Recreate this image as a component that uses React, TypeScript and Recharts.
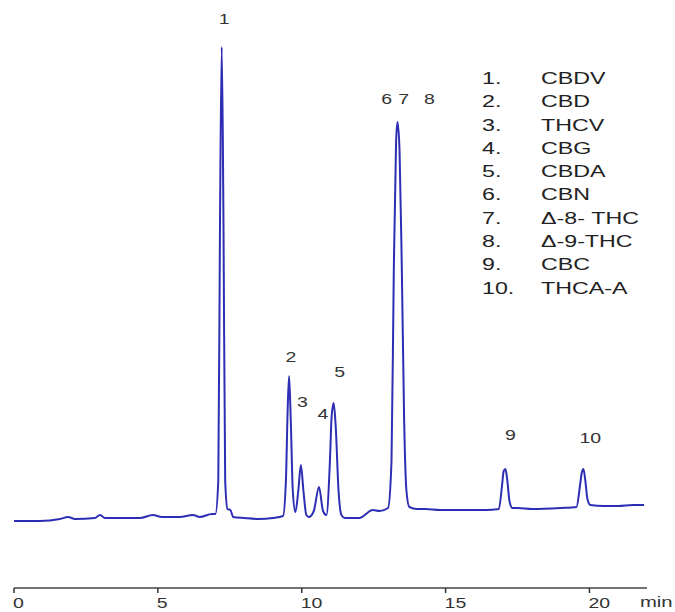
import React from "react";
import { LineChart, Line, XAxis, YAxis, ReferenceDot } from "recharts";

// retention time (min)
const times = [
  0, 0.9, 1.6, 1.88, 2.12, 2.81, 2.99, 3.16, 4.38, 4.83, 5.14, 5.76, 6.22, 6.46, 6.88, 7.0,
  7.1, 7.16, 7.22, 7.28, 7.34, 7.42, 7.52, 7.62, 8.0, 8.5, 9.0, 9.35,
  9.45, 9.51, 9.56, 9.62, 9.69, 9.78, 9.88, 9.97, 10.06, 10.16, 10.25, 10.42, 10.6, 10.74, 10.86,
  10.98, 11.04, 11.11, 11.18, 11.28, 11.38, 11.5, 12.0, 12.47, 12.7, 13.0,
  13.12, 13.2, 13.28, 13.33, 13.4, 13.48, 13.56, 13.64, 13.74, 14.0, 14.3, 14.8, 15.5, 16.4,
  16.85, 16.96, 17.02, 17.08, 17.14, 17.22, 17.32, 17.5, 18.0, 19.0,
  19.55, 19.67, 19.73, 19.79, 19.85, 19.93, 20.03, 20.5, 21.0, 21.5, 21.9,
];

// detector response (arbitrary units)
const signal = [
  0, 0, 2, 4, 2, 3, 6, 3, 3, 6, 4, 4, 6, 4, 7, 7,
  40, 300, 474, 300, 40, 12, 11, 4, 3, 2, 3, 5,
  40, 110, 145, 100, 30, 9, 30, 56, 30, 6, 4, 10, 34, 10, 6,
  60, 105, 118, 95, 30, 6, 3, 3, 11, 10, 13,
  60, 250, 380, 399, 370, 250, 100, 30, 14, 12, 12, 11, 11, 11,
  12, 35, 50, 52, 42, 20, 13, 13, 12, 13,
  14, 35, 48, 52, 42, 22, 16, 15, 15, 16, 16,
];

const tickValues = [0, 5, 10, 15, 20];

// peak annotations
const peakLabels = ["1", "2", "3", "4", "5", "6", "7", "8", "9", "10"];
const peakLabelTimes = [7.3, 9.62, 10.02, 10.74, 11.32, 12.95, 13.54, 14.44, 17.25, 20.03];
const peakLabelHeights = [502, 164, 119, 107, 149, 422, 422, 422, 86, 83];

// compound list
const compoundNumbers = ["1.", "2.", "3.", "4.", "5.", "6.", "7.", "8.", "9.", "10."];
const compoundNames = ["CBDV", "CBD", "THCV", "CBG", "CBDA", "CBN", "\u0394-8- THC", "\u0394-9-THC", "CBC", "THCA-A"];

const data = times.map((t, i) => ({ t, v: signal[i] }));

const FONT = '"Liberation Sans", Arial, Helvetica, sans-serif';

const Tick = (props: any) => {
  const { x, payload } = props;
  return (
    <text
      transform={`translate(${x - 1},608) scale(1.3,1)`}
      x={0}
      y={0}
      textAnchor="start"
      fontFamily={FONT}
      fontSize={15}
      fill="#333"
    >
      {payload.value}
    </text>
  );
};

const PeakText = ({ viewBox, text }: any) => {
  const x = viewBox.x + (viewBox.width || 0) / 2;
  const y = viewBox.y + (viewBox.height || 0) / 2;
  return (
    <text
      transform={`translate(${x},${y}) scale(1.3,1)`}
      x={0}
      y={0}
      textAnchor="middle"
      dominantBaseline="central"
      fontFamily={FONT}
      fontSize={15}
      fill="#333"
    >
      {text}
    </text>
  );
};

const legendSpan: React.CSSProperties = {
  display: "inline-block",
  transform: "scaleX(1.45)",
  transformOrigin: "left center",
  whiteSpace: "nowrap",
};

export default function App() {
  return (
    <div style={{ position: "fixed", left: 0, top: 0, width: 675, height: 612, background: "#fff" }}>
      <LineChart width={675} height={612} data={data} margin={{ top: 10, right: 28, left: 14, bottom: 0 }}>
        <XAxis
          dataKey="t"
          type="number"
          domain={[0, 22]}
          ticks={tickValues}
          height={24}
          axisLine={{ stroke: "#444", strokeWidth: 1.5 }}
          tickLine={{ stroke: "#333", strokeWidth: 1.5 }}
          tickSize={5}
          tick={<Tick />}
          interval={0}
        />
        <YAxis hide type="number" domain={[-67, 511]} allowDataOverflow />
        <Line
          type="monotone"
          dataKey="v"
          stroke="#2e2eb4"
          strokeWidth={2}
          dot={false}
          isAnimationActive={false}
        />
        {peakLabels.map((lab, i) => (
          <ReferenceDot
            key={lab}
            x={peakLabelTimes[i]}
            y={peakLabelHeights[i]}
            r={0}
            fill="none"
            stroke="none"
            label={(p: any) => <PeakText viewBox={p.viewBox} text={lab} />}
          />
        ))}
      </LineChart>
      <div
        style={{
          position: "absolute",
          left: 482,
          top: 67,
          fontFamily: FONT,
          fontSize: 16,
          color: "#222",
          lineHeight: "23.3px",
        }}
      >
        {compoundNumbers.map((n, i) => (
          <div key={n} style={{ display: "flex" }}>
            <span style={{ width: 59, display: "inline-block" }}>
              <span style={legendSpan}>{n}</span>
            </span>
            <span style={legendSpan}>{compoundNames[i]}</span>
          </div>
        ))}
      </div>
      <div
        style={{
          position: "absolute",
          left: 640,
          top: 593,
          fontFamily: FONT,
          fontSize: 15,
          color: "#333",
          transform: "scaleX(1.35)",
          transformOrigin: "left center",
        }}
      >
        min
      </div>
    </div>
  );
}
